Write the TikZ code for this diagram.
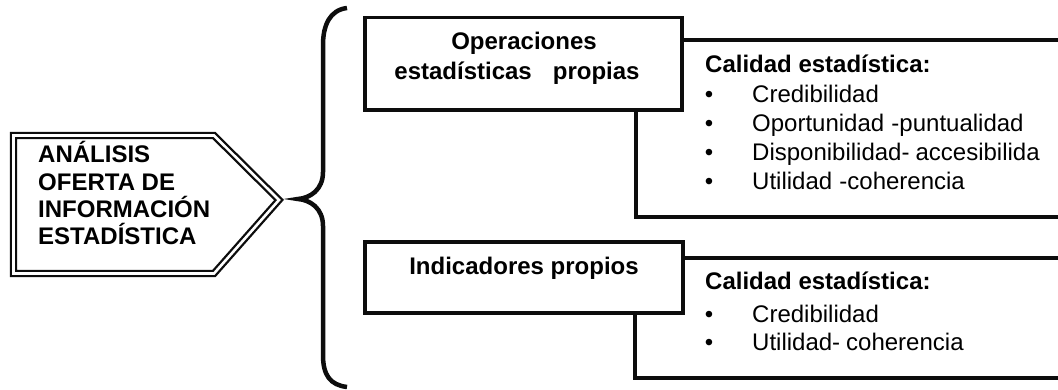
\documentclass[tikz,border=0pt]{standalone}
\usepackage{fontspec}
\setmainfont{Liberation Sans}
\begin{document}
\begin{tikzpicture}[x=1pt,y=-1pt,
  ink/.style={draw=black!95},
  boxline/.style={ink, line width=3.3pt},
  bigtxt/.style={font=\fontsize{24}{28}\selectfont\bfseries, inner sep=0pt},
  hdr/.style={font=\fontsize{24}{28}\selectfont\bfseries, inner sep=0pt, anchor=base west},
  item/.style={font=\fontsize{24}{28}\selectfont, inner sep=0pt, anchor=base west},
  bul/.style={font=\fontsize{24}{28}\selectfont, inner sep=0pt, anchor=base},
]
\useasboundingbox (0,0) rectangle (1058,390);
% pentagon arrow (double line)
\draw[black!95, line width=2.3pt, double=white, double distance=2.6pt, line join=miter]
  (13.5,135.5) -- (214,135.5) -- (279,200) -- (214,273.5) -- (13.5,273.5) -- cycle;
\node[hdr] (a1) at (38,163) {ANÁLISIS};
\node[hdr] (a2) at (38,191) {OFERTA DE};
\node[hdr] (a3) at (38,218) {INFORMACIÓN};
\node[hdr] (a4) at (38,245) {ESTADÍSTICA};
% brace
\draw[black!95, line width=4.5pt]
  (347,8) .. controls (330,10) and (323,25) .. (323,45) -- (323,172)
  .. controls (323,190) and (310,198) .. (298,199)
  .. controls (310,200) and (323,208) .. (323,226) -- (323,355)
  .. controls (323,375) and (330,385) .. (347,387);
% box 1
\node[boxline, minimum width=317pt, minimum height=92.5pt, inner sep=0pt] (op) at (523.5,63.75) {};
\node[bigtxt, anchor=base] (opt1) at (524,50) {Operaciones};
\node[bigtxt, anchor=base] (opt2) at (517,80) {estadísticas\hspace{0.6em} propias};
% right box 1
\coordinate (r1a) at (1060,40);
\coordinate (r1b) at (1060,217);
\draw[boxline] (op.east |- r1a) -- (r1a);
\draw[boxline, line cap=rect] (636,110) -- (636,217) -- (r1b);
\node[hdr] (c1) at (705,73) {Calidad estadística:};
\foreach \i/\y/\t in {1/103/Credibilidad, 2/132/Oportunidad\hspace{0.3em}-puntualidad, 3/161/Disponibilidad-\hspace{0.25em}accesibilida, 4/190/Utilidad\hspace{0.3em}-coherencia}{
  \node[bul] (b1\i) at (709,\y) {•};
  \node[item] (t1\i) at (752,\y) {\t};
}
% box 2
\node[boxline, minimum width=318pt, minimum height=71pt, inner sep=0pt] (ind) at (524,277.5) {};
\node[bigtxt, anchor=base] (indt) at (524,275) {Indicadores propios};
% right box 2
\coordinate (r2a) at (1060,258);
\coordinate (r2b) at (1060,378);
\draw[boxline] (ind.east |- r2a) -- (r2a);
\draw[boxline, line cap=rect] (635,313) -- (635,378) -- (r2b);
\node[hdr] (c2) at (705,290) {Calidad estadística:};
\foreach \i/\y/\t in {1/322/Credibilidad, 2/350/Utilidad-\hspace{0.25em}coherencia}{
  \node[bul] (b2\i) at (709,\y) {•};
  \node[item] (t2\i) at (752,\y) {\t};
}
\end{tikzpicture}
\end{document}
